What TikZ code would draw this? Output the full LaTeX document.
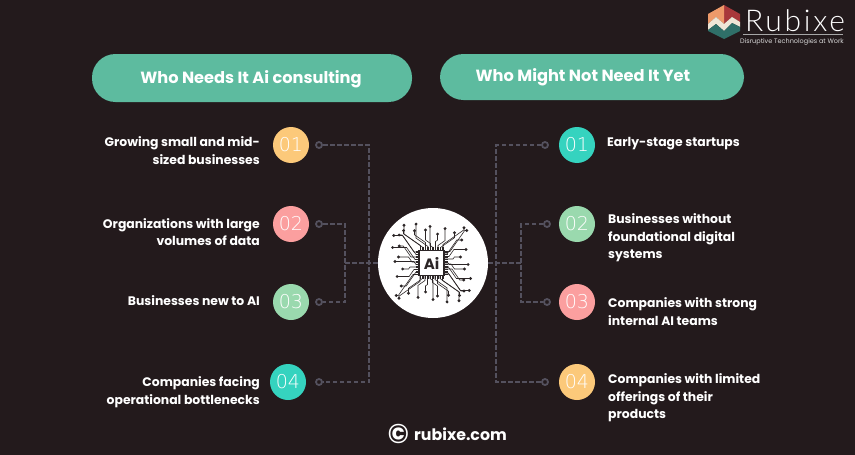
\documentclass[tikz,border=0pt]{standalone}
\usepackage{fontspec}
\setmainfont{Poppins}
\newfontfamily\numfont{DejaVu Sans ExtraLight}
\newfontfamily\logofont[LetterSpace=9]{Lato Light}
\usetikzlibrary{arrows}
\definecolor{bgdark}{HTML}{231A1C}
\definecolor{pillgreen}{HTML}{5DBB9F}
\definecolor{numyellow}{HTML}{FCC97A}
\definecolor{numpink}{HTML}{FB9F9F}
\definecolor{numgreen}{HTML}{9AD9AE}
\definecolor{numteal}{HTML}{35D3BF}
\definecolor{wiregrey}{HTML}{54515E}
\definecolor{chipink}{HTML}{2B2526}
\definecolor{logored}{HTML}{A8383B}
\definecolor{logoorange}{HTML}{EE9A6A}
\definecolor{logocream}{HTML}{EFE6D6}
\definecolor{logoteal}{HTML}{2F6F68}

\begin{document}
\begin{tikzpicture}[x=1pt,y=-1pt]
    \tikzset{pill/.style = {shape=rectangle,rounded corners=23.5pt,fill=pillgreen,inner sep=0pt}}
    \tikzset{pilltext/.style = {text=white,inner sep=0pt,font=\bfseries\fontsize{16.2}{18}\selectfont}}
    \tikzset{num/.style = {shape=circle,minimum size=36pt,inner sep=0pt,text=white,font=\numfont\fontsize{19}{20}\selectfont}}
    \tikzset{ring/.style = {shape=circle,draw=wiregrey,line width=1.8pt,minimum size=6pt,inner sep=0pt}}
    \tikzset{wire/.style = {draw=wiregrey,line width=1.8pt,dash pattern=on 4.6pt off 2.4pt}}
    \tikzset{lefttext/.style = {anchor=east,align=right,inner sep=0pt,text=white,font=\bfseries\fontsize{12.4}{17.6}\selectfont}}
    \tikzset{righttext/.style = {anchor=west,align=left,inner sep=0pt,text=white,font=\bfseries\fontsize{12.4}{17.6}\selectfont}}
    \tikzset{trace/.style = {draw=chipink,line width=0.6pt}}
    \fill[bgdark] (0,0) rectangle (855,455);
    \useasboundingbox (0,0) rectangle (855,455);
    % headers
    \node[pill,minimum width=320pt,minimum height=48pt] (whoneeds) at (252,78) {};
    \node[pill,minimum width=304pt,minimum height=46pt] (whonot) at (592,77) {};
    \node[pilltext] (whoneedstext) at (251,79) {Who Needs It Ai consulting};
    \node[pilltext] (whonottext) at (583,77.5) {Who Might Not Need It Yet};
    % left column
    \node[num,fill=numyellow] (la) at (291,145) {01};
    \node[num,fill=numpink] (lb) at (291,224) {02};
    \node[num,fill=numgreen] (lc) at (291,302) {03};
    \node[num,fill=numteal] (ld) at (288,382) {04};
    \node[lefttext] (lta) at (260,150.5) {Growing small and mid-\\sized businesses\hspace{3pt}};
    \node[lefttext] (ltb) at (260,232) {Organizations with large\\volumes of data};
    \node[lefttext] (ltc) at (260,301) {Businesses new to AI};
    \node[lefttext] (ltd) at (260,392) {Companies facing\\operational bottlenecks};
    % right column
    \node[num,fill=numteal] (ra) at (577,145) {01};
    \node[num,fill=numgreen] (rb) at (577,224) {02};
    \node[num,fill=numpink] (rc) at (577,302) {03};
    \node[num,fill=numyellow] (rd) at (577,382) {04};
    \node[righttext] (rta) at (607,144) {Early-stage startups};
    \node[righttext] (rtb) at (608,238) {Businesses without\\foundational digital\\systems};
    \node[righttext] (rtc) at (608,311.5) {Companies with strong\\internal AI teams};
    \node[righttext] (rtd) at (608,398) {Companies with limited\\offerings of their\\products};
    % centre
    \node[shape=circle,fill=white,minimum size=110pt,inner sep=0pt] (hub) at (433,263) {};
    % rings
    \node[ring] (lra) at (319,145) {};
    \node[ring] (lrb) at (319,224) {};
    \node[ring] (lrc) at (319,302) {};
    \node[ring] (lrd) at (319,382) {};
    \node[ring] (rra) at (545,145) {};
    \node[ring] (rrb) at (547,224) {};
    \node[ring] (rrc) at (547,302) {};
    \node[ring] (rrd) at (545,382) {};
    \coordinate (ljoin) at (345,263);
    \coordinate (rjoin) at (521,263);
    % edges
    \draw[wire] (lra) -| (369,263) |- (lrd);
    \draw[wire] (lrb) -| (ljoin) |- (lrc);
    \draw[wire] (ljoin) -- (hub);
    \draw[wire] (rra) -| (496,263) |- (rrd);
    \draw[wire] (rrb) -| (rjoin) |- (rrc);
    \draw[wire] (rjoin) -- (hub);
    % chip traces
    \begin{scope}[shift={(431.5,263)}]
    \foreach \side/\flip in {0/1,90/-1,180/1,270/-1} {
    \begin{scope}[rotate=\side,xscale=\flip]
    \foreach \ox/\up/\bend/\run in {-11/5/-17/3,-8.5/3/-19/9,-6/8/-11/4,-3.5/4/-12/14,-1/7/-5/10,1.5/3/-3/19,4/9/2/6,6.5/5/7/12,9/3/14/5,11.5/6/21/2} {
    \draw[trace] (\ox,-12.5) -- (\ox,-12.5-\up) -- (\ox+\bend,-12.5-\up-abs \bend*0.7) -- (\ox+\bend,-12.5-\up-abs \bend*0.7-\run);
    \fill[chipink] (\ox+\bend,-12.5-\up-abs \bend*0.7-\run) circle (1.6pt);
    }
    \end{scope}
    }
    \foreach \ox in {-11,-8.5,-6,-3.5,-1,1.5,4,6.5,9,11.5} {
    \draw[chipink,line width=1.3pt] (\ox,-12.5) -- (\ox,-16);
    \draw[chipink,line width=1.3pt] (\ox,12.5) -- (\ox,16);
    \draw[chipink,line width=1.3pt] (-12.5,\ox) -- (-16,\ox);
    \draw[chipink,line width=1.3pt] (12.5,\ox) -- (16,\ox);
    }
    \node[shape=rectangle,draw=chipink,line width=1.6pt,fill=white,minimum size=25pt,inner sep=0pt,text=chipink,font=\bfseries\fontsize{15}{15}\selectfont] (chip) at (0,0) {Ai};
    \end{scope}
    % logo
    \fill[logored] (724,5) -- (740,14) -- (740,22) -- (732,17) -- (724,24) -- cycle;
    \fill[logoorange] (708,14) -- (724,5) -- (724,24) -- (716,17) -- (708,24) -- cycle;
    \fill[logocream] (708,24) -- (716,17) -- (724,24) -- (732,17) -- (740,22) -- (740,27) -- (732,23) -- (724,31) -- (716,24) -- (708,30) -- cycle;
    \fill[logoteal] (708,30) -- (716,24) -- (724,31) -- (732,23) -- (740,27) -- (740,31) -- (724,39) -- (708,31) -- cycle;
    \node[anchor=west,inner sep=0pt,text=white,font=\logofont\fontsize{30}{30}\selectfont] (logoname) at (745,21) {Rubixe};
    \fill[gray!70] (743,33.5) rectangle (843,34.7);
    \node[anchor=west,inner sep=0pt,text=white!85!black,font=\fontsize{6.5}{8}\selectfont] (logotag) at (740,42) {Disruptive Technologies at Work};
    % footer
    \node[anchor=center,inner sep=0pt,text=white,font=\bfseries\fontsize{27}{27}\selectfont] (copysign) at (398.5,434) {©};
    \node[anchor=west,inner sep=0pt,text=white,font=\bfseries\fontsize{15.8}{18}\selectfont] (footer) at (414,434) {rubixe.com};
\end{tikzpicture}
\end{document}
